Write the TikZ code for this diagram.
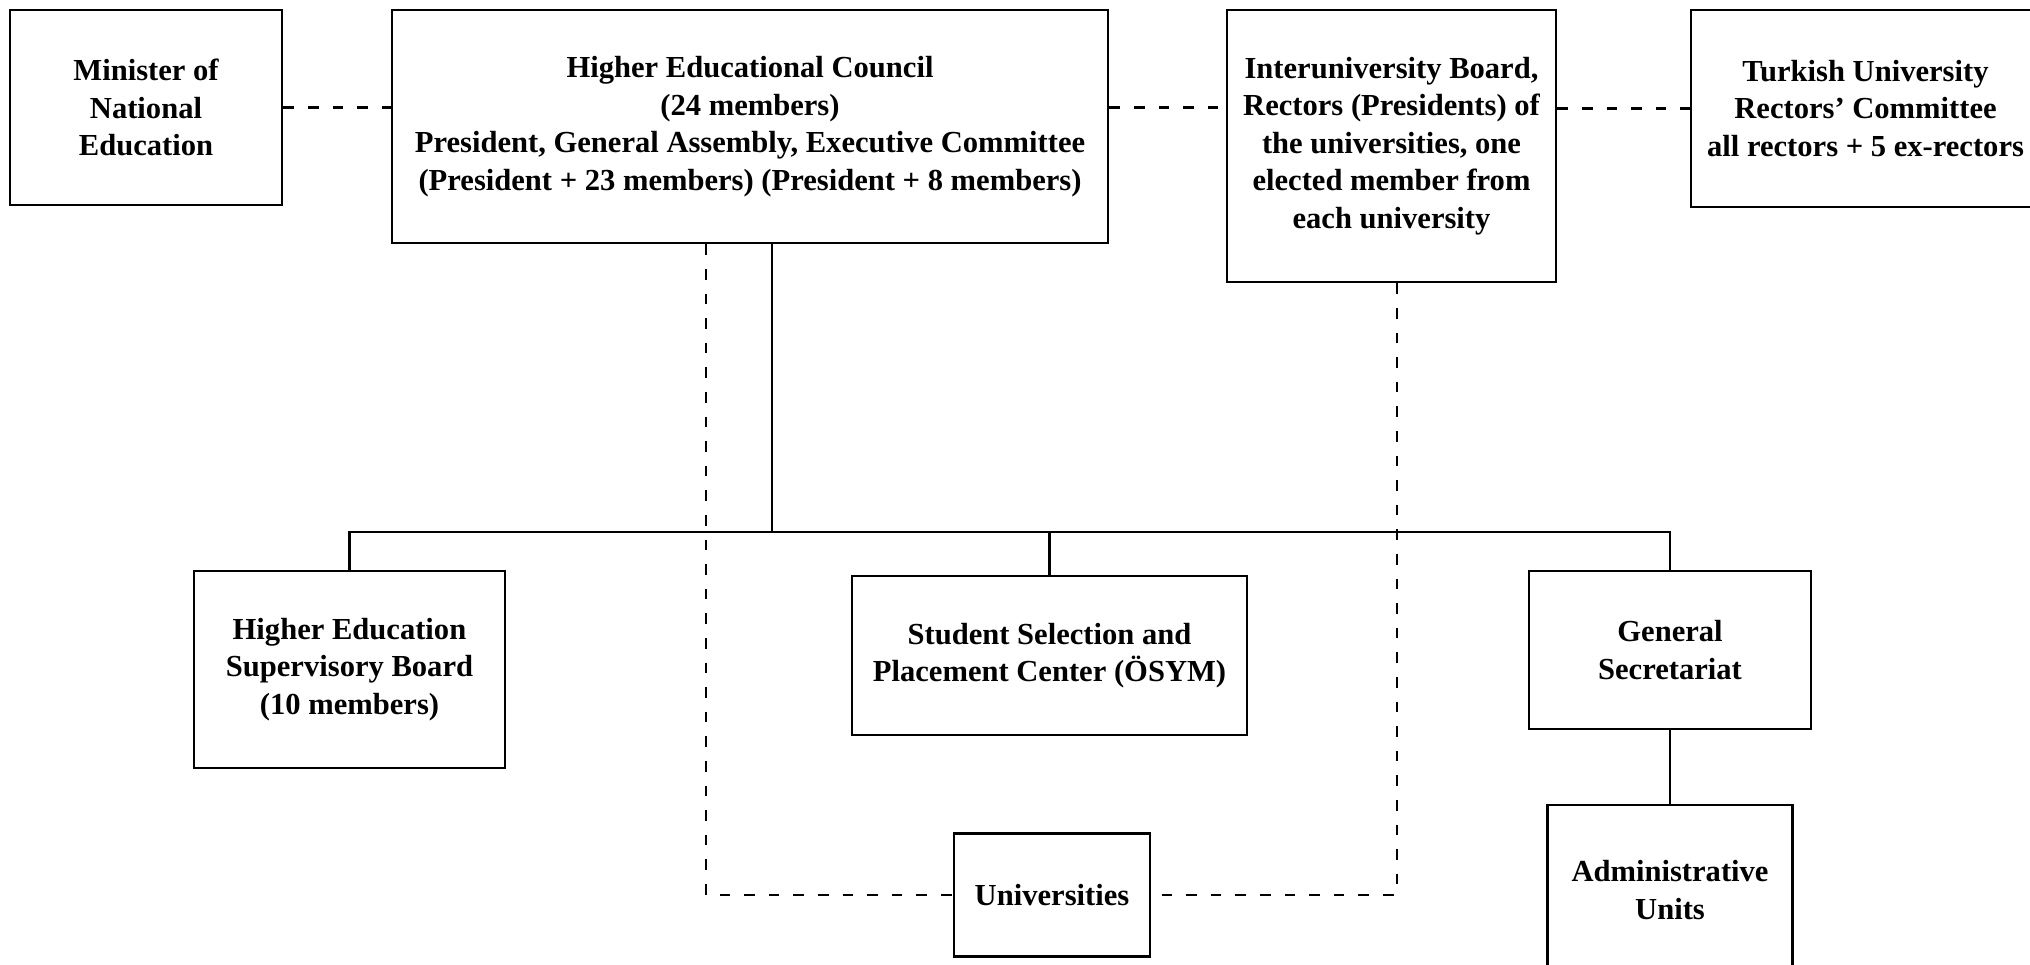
\documentclass[tikz,border=0pt]{standalone}
\usepackage{fontspec}
\setmainfont{Liberation Serif}
\begin{document}
\begin{tikzpicture}[line width=0.8pt,
			box/.style = {draw, align=center, inner sep=0pt,
				font=\bfseries\fontsize{8.7}{10.7}\selectfont},
			link/.style = {dash pattern=on 3pt off 4pt}]
			
			\useasboundingbox (0,0) rectangle (20.3,-9.65);
			
			% top row
			\node[box, minimum width=2.72cm, minimum height=1.95cm] (minister) at (1.46,-1.075)
				{Minister of\\National\\Education};
			\node[box, minimum width=7.16cm, minimum height=2.33cm] (hec) at (7.50,-1.265)
				{Higher Educational Council\\(24 members)\\President, General Assembly, Executive Committee\\(President + 23 members) (President + 8 members)};
			\node[box, minimum width=3.29cm, minimum height=2.72cm] (inter) at (13.915,-1.46)
				{Interuniversity Board,\\Rectors (Presidents) of\\the universities, one\\elected member from\\each university};
			\node[box, minimum width=3.49cm, minimum height=1.97cm] (rectors) at (18.655,-1.085)
				{Turkish University\\Rectors' Committee\\all rectors + 5 ex-rectors};
			
			% lower row
			\node[box, minimum width=3.11cm, minimum height=1.97cm] (hesb) at (3.495,-6.695)
				{Higher Education\\Supervisory Board\\(10 members)};
			\node[box, minimum width=3.95cm, minimum height=1.59cm] (osym) at (10.495,-6.555)
				{Student Selection and\\Placement Center (ÖSYM)};
			\node[box, minimum width=2.82cm, minimum height=1.58cm] (gs) at (16.70,-6.50)
				{General\\Secretariat};
			\node[box, minimum width=2.45cm, minimum height=1.70cm] (admin) at (16.70,-8.90)
				{Administrative\\Units};
			\node[box, minimum width=1.96cm, minimum height=1.23cm] (univ) at (10.52,-8.95)
				{Universities};
			
			\coordinate (bus) at (7.72,-5.32);
			\coordinate (dropL) at (7.06,0);
			\coordinate (dropR) at (13.97,0);
			
			% solid lines
			\draw (hec.south -| bus) -- (bus);
			\draw (hesb.north) |- (bus) -| (gs.north);
			\draw (osym.north) -- (osym.north |- bus);
			\draw (gs.south) -- (admin.north);
			
			% dashed lines
			\draw[link] (minister.east) -- (hec.west |- minister.east);
			\draw[link] (hec.east |- minister.east) -- (inter.west |- minister.east);
			\draw[link] (inter.east |- rectors.west) -- (rectors.west);
			\draw[link] (hec.south -| dropL) |- (univ.west);
			\draw[link] (inter.south -| dropR) |- (univ.east);
			\end{tikzpicture}
\end{document}
